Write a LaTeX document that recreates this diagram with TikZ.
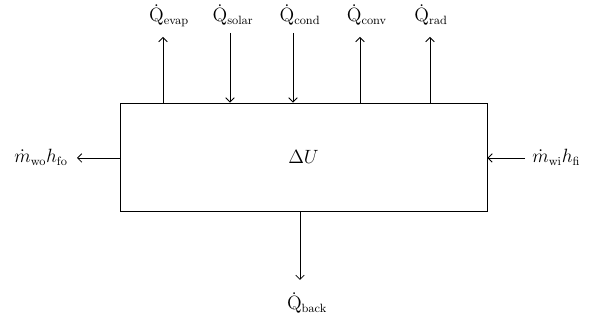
\documentclass[tikz,border=0pt]{standalone}
\usepackage{amsmath}
\usetikzlibrary{positioning,arrows.meta}

\begin{document}
\begin{tikzpicture}[x=0.75pt, y=-0.75pt, >={Straight Barb[length=3.2pt, width=6.4pt]}, line width=0.6pt,
  lbl/.style={font=\fontsize{13.5}{16}\selectfont, inner sep=0pt},
  flow/.style={->}]
  \useasboundingbox (0,0) rectangle (594,323);
  % control volume
  \node[draw, lbl, minimum width=275.25pt, minimum height=81pt] (cv) at (303.5,157) {$\Delta U$};
  % arrow ends
  \coordinate (evap) at (163,37);
  \coordinate (solar) at (230,33);
  \coordinate (cond) at (293,33);
  \coordinate (conv) at (360,37);
  \coordinate (rad) at (430,37);
  \coordinate (wo) at (77,158);
  \coordinate (wi) at (525,158);
  \coordinate (back) at (300,280);
  % heat flows
  \draw[flow] (evap |- cv.north) -- (evap);
  \draw[flow] (solar) -- (solar |- cv.north);
  \draw[flow] (cond) -- (cond |- cv.north);
  \draw[flow] (conv |- cv.north) -- (conv);
  \draw[flow] (rad |- cv.north) -- (rad);
  \draw[flow] (cv.south -| back) -- (back);
  % mass flows
  \draw[flow] (cv.west |- wo) -- (wo);
  \draw[flow] (wi) -- (cv.east |- wi);
  % labels
  \node[lbl, anchor=base] (qevap) at (169,22) {$\dot{\mathrm{Q}}_{\mathrm{evap}}$};
  \node[lbl, anchor=base] (qsolar) at (233,22) {$\dot{\mathrm{Q}}_{\mathrm{solar}}$};
  \node[lbl, anchor=base] (qcond) at (300,22) {$\dot{\mathrm{Q}}_{\mathrm{cond}}$};
  \node[lbl, anchor=base] (qconv) at (367,22) {$\dot{\mathrm{Q}}_{\mathrm{conv}}$};
  \node[lbl, anchor=base] (qrad) at (431,22) {$\dot{\mathrm{Q}}_{\mathrm{rad}}$};
  \node[lbl, anchor=base] (qback) at (307,310) {$\dot{\mathrm{Q}}_{\mathrm{back}}$};
  \node[lbl, anchor=base east] (mwo) at (68,163) {$\dot{m}_{\mathrm{wo}}h_{\mathrm{fo}}$};
  \node[lbl, anchor=base west] (mwi) at (532,163) {$\dot{m}_{\mathrm{wi}}h_{\mathrm{fi}}$};
\end{tikzpicture}
\end{document}
